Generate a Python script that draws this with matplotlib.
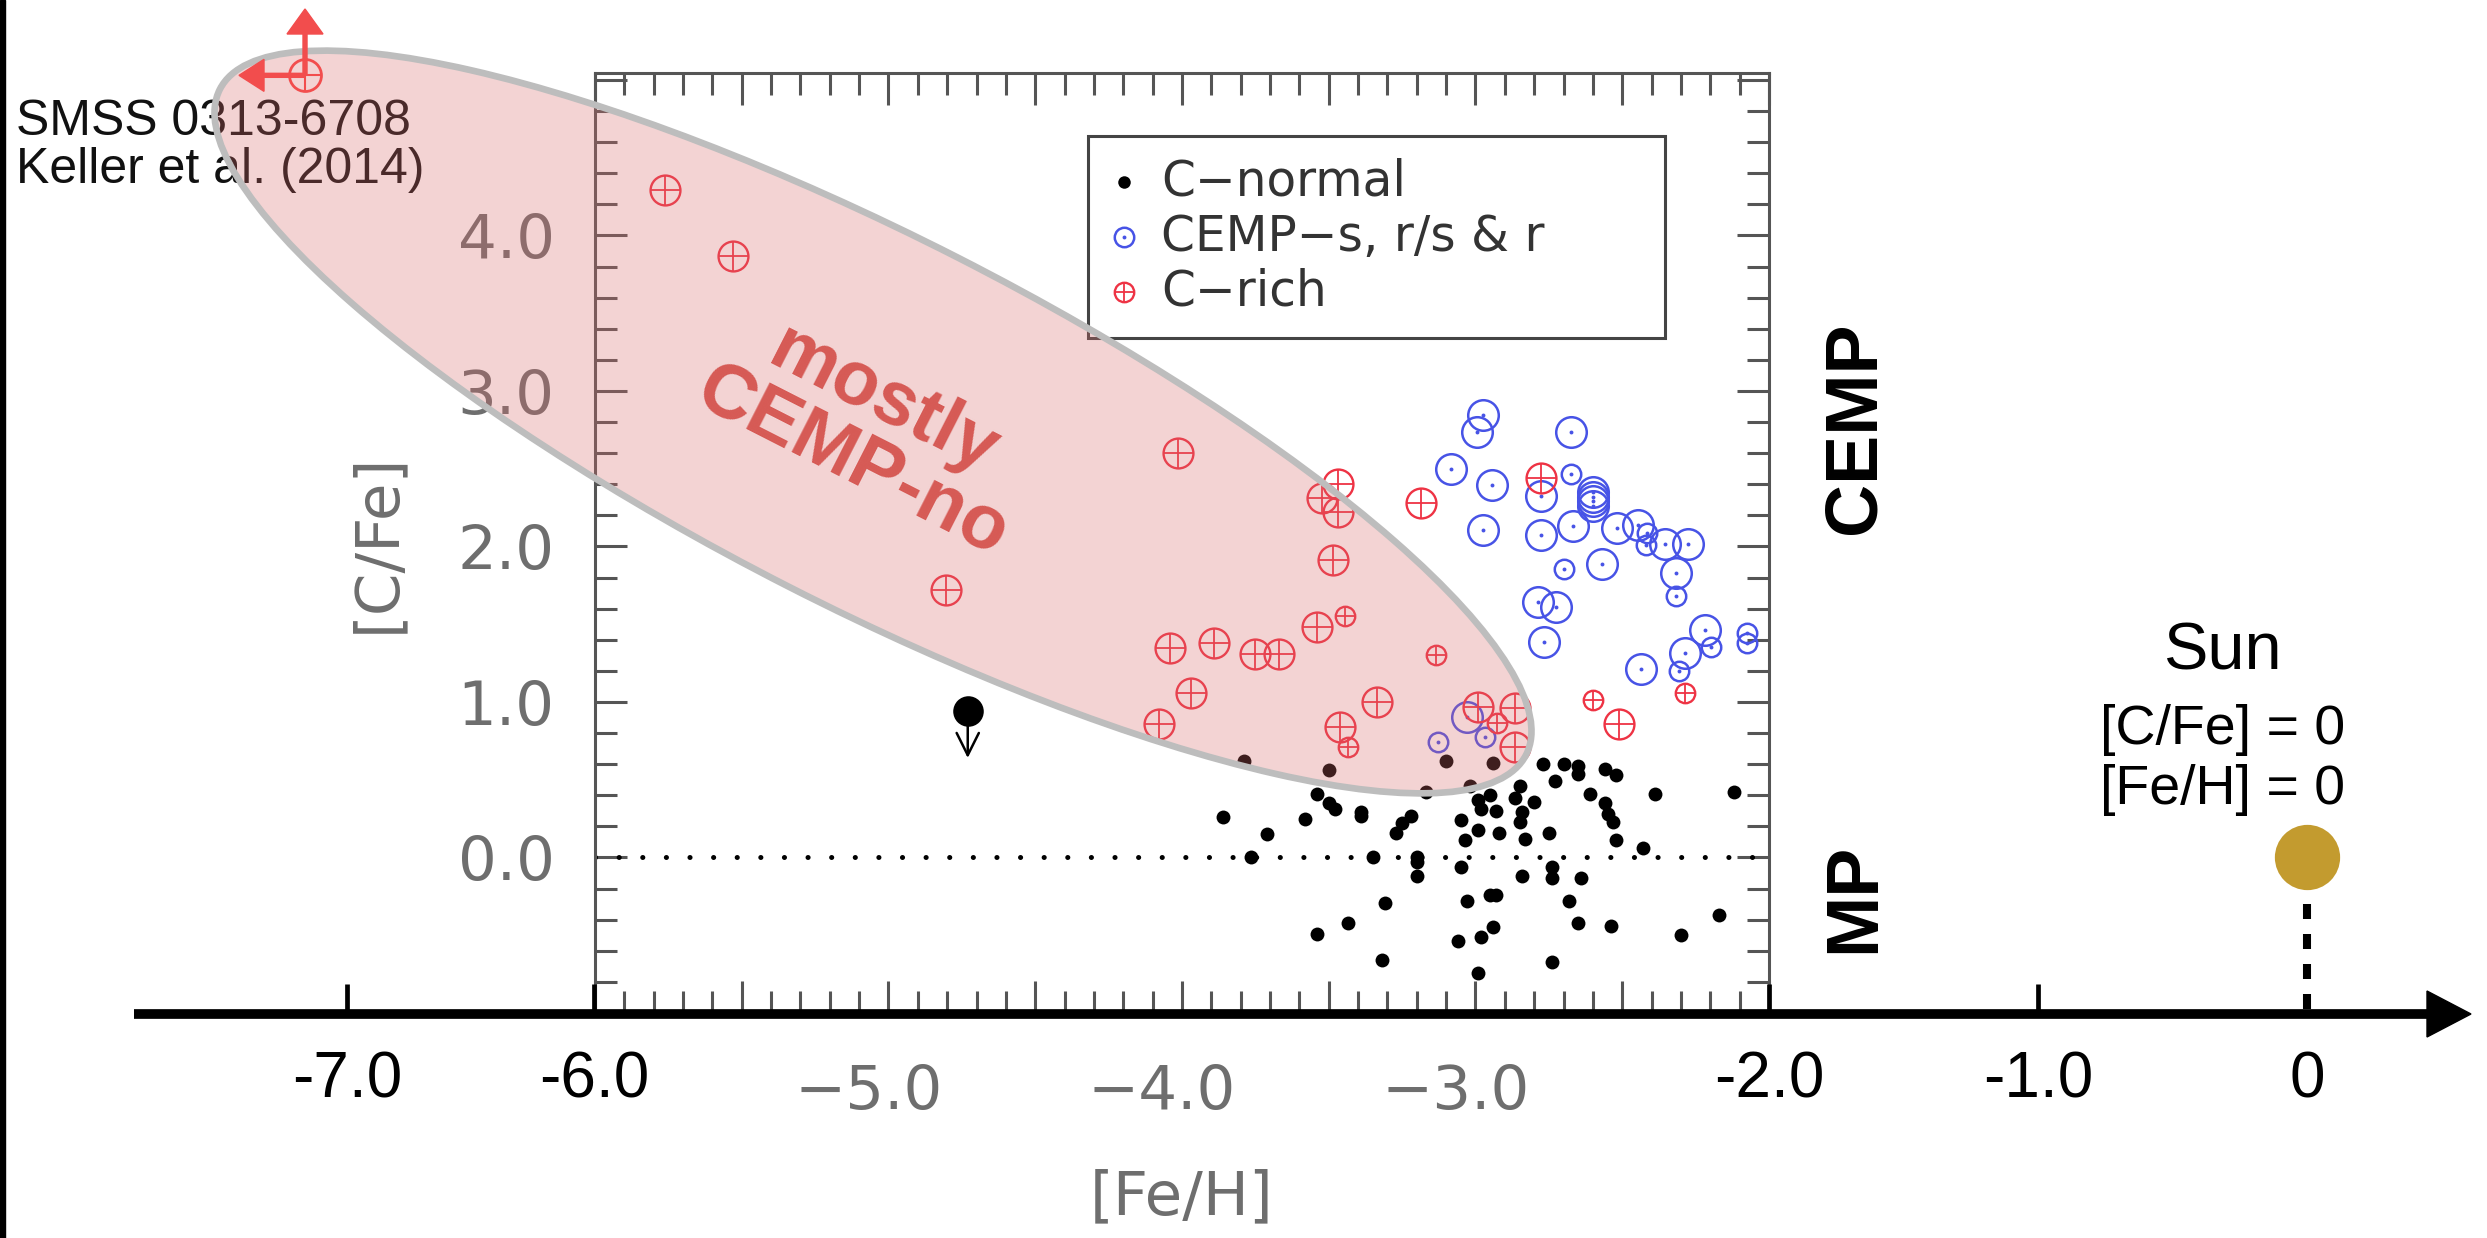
import numpy as np
import matplotlib
matplotlib.use('Agg')
import matplotlib.pyplot as plt
from matplotlib.patches import Ellipse, Rectangle, Polygon
from matplotlib.ticker import MultipleLocator
from matplotlib.transforms import ScaledTranslation

plt.rcParams['lines.scale_dashes'] = False

W, H, DPI = 2487, 1238, 100

# C-normal stars
normal_feh = [-3.79, -3.50, -3.10, -2.94, -3.02, -3.17, -2.77, -2.70, -2.65, -2.65,
              -2.56, -2.52, -2.73, -2.85, -2.95, -2.99, -2.865, -2.80, -2.98, -2.93,
              -2.84, -2.85, -2.61, -2.56, -2.55, -2.53, -2.39, -2.12, -3.54, -3.50,
              -3.48, -3.39, -3.39, -3.22, -3.25, -3.27, -3.86, -3.58, -3.71, -3.05,
              -2.99, -2.92, -2.83, -2.75, -3.035, -2.52, -2.43, -3.765, -3.35, -3.20,
              -3.20, -3.05, -3.20, -2.84, -2.74, -2.74, -2.64, -3.31, -3.03, -2.95,
              -2.93, -2.68, -3.435, -3.54, -2.94, -2.98, -3.06, -2.65, -2.54, -2.30,
              -2.17, -3.32, -2.99, -2.74]
normal_cfe = [0.62, 0.56, 0.62, 0.61, 0.46, 0.42, 0.60, 0.60, 0.59, 0.54,
              0.57, 0.53, 0.49, 0.46, 0.405, 0.37, 0.38, 0.36, 0.31, 0.30,
              0.29, 0.23, 0.41, 0.35, 0.28, 0.23, 0.41, 0.42, 0.41, 0.35,
              0.31, 0.29, 0.27, 0.27, 0.22, 0.16, 0.26, 0.25, 0.15, 0.24,
              0.18, 0.16, 0.12, 0.16, 0.11, 0.11, 0.06, 0.00, 0.00, 0.00,
              -0.03, -0.06, -0.12, -0.12, -0.06, -0.13, -0.13, -0.29, -0.28, -0.24,
              -0.24, -0.28, -0.42, -0.49, -0.45, -0.51, -0.54, -0.42, -0.44, -0.50,
              -0.37, -0.66, -0.74, -0.67]

# upper limit star
limit_feh, limit_cfe, limit_len = -4.73, 0.94, 0.30

# CEMP-s, r/s & r (big / small symbols)
cemp_feh = [-2.976, -2.996, -2.676, -3.085, -2.945, -2.778, -2.599, -2.599, -2.599, -2.599,
            -2.976, -2.778, -2.667, -2.517, -2.445, -2.354, -2.277, -2.317, -2.568, -2.786,
            -2.727, -2.767, -2.218, -2.286, -2.437, -3.029]
cemp_cfe = [2.846, 2.738, 2.738, 2.496, 2.395, 2.325, 2.35, 2.32, 2.29, 2.26,
            2.106, 2.074, 2.134, 2.117, 2.138, 2.014, 2.014, 1.832, 1.886, 1.645,
            1.613, 1.388, 1.463, 1.313, 1.210, 0.902]
cemp_small_feh = [-2.676, -2.414, -2.418, -2.317, -2.698, -2.196, -2.076, -2.076, -2.306, -3.127, -2.968]
cemp_small_cfe = [2.466, 2.085, 2.01, 1.682, 1.853, 1.356, 1.442, 1.377, 1.201, 0.742, 0.774]

# C-rich (big / small symbols)
crich_feh = [-5.76, -5.53, -4.805, -4.015, -4.04, -3.89, -3.97, -4.08, -3.75, -3.67,
             -3.54, -3.487, -3.469, -3.522, -3.469, -3.186, -3.46, -3.335, -2.99, -2.865,
             -2.865, -2.778, -2.51]
crich_cfe = [4.29, 3.87, 1.72, 2.60, 1.35, 1.38, 1.06, 0.86, 1.31, 1.31,
             1.48, 1.91, 2.22, 2.31, 2.40, 2.28, 0.84, 1.00, 0.97, 0.96,
             0.71, 2.44, 0.86]
crich_small_feh = [-3.446, -3.135, -3.435, -2.926, -2.599, -2.287]
crich_small_cfe = [1.556, 1.30, 0.71, 0.864, 1.014, 1.057]

# SMSS 0313-6708 (limits) and the Sun
smss_feh, smss_cfe = -7.17, 5.03
sun_feh, sun_cfe = 0.0, 0.0

# outer (schematic) axis
outer_ticks = [-7.0, -6.0, -2.0, -1.0, 0.0]
outer_labels = ['-7.0', '-6.0', '-2.0', '-1.0', '0']
outer_px = [347, 594, 1769, 2038, 2307]

inner_xlabels = {-5.0: '\u22125.0', -4.0: '\u22124.0', -3.0: '\u22123.0'}
inner_ylabels = {0.0: '0.0', 1.0: '1.0', 2.0: '2.0', 3.0: '3.0', 4.0: '4.0'}

RED = '#EE3344'
BLUE = '#4753E6'
GRAY = '#6e6e6e'
DARK = '#555555'


def outer_x(fe):
    if fe < outer_ticks[0]:
        return outer_px[0] + (fe - outer_ticks[0]) * (outer_px[1] - outer_px[0])
    return np.interp(fe, outer_ticks, outer_px)


fig = plt.figure(figsize=(W / DPI, H / DPI), dpi=DPI)
ax = fig.add_axes([595 / W, 1 - 1013 / H, (1769 - 595) / W, (1013 - 73) / H])
ax.set_xlim(-6, -2)
ax.set_ylim(-1, 5.045)

xt = np.arange(-6, -1.99, 0.5)
ax.set_xticks(xt, [inner_xlabels.get(round(v, 1), '') for v in xt])
yt = np.arange(-1, 5.01, 1.0)
ax.set_yticks(yt, [inner_ylabels.get(round(v, 1), '') for v in yt])
ax.xaxis.set_minor_locator(MultipleLocator(0.1))
ax.yaxis.set_minor_locator(MultipleLocator(0.2))
ax.tick_params(which='both', direction='in', top=True, right=True, color=DARK, width=2.2)
ax.tick_params(which='major', length=23)
ax.tick_params(which='minor', length=16)
ax.tick_params(axis='x', pad=36, labelsize=44, labelcolor=GRAY)
ax.tick_params(axis='y', pad=29, labelsize=44, labelcolor=GRAY)
for lab in ax.get_xticklabels():
    lab.set_transform(lab.get_transform() + ScaledTranslation(-0.2, 0, fig.dpi_scale_trans))
for sp in ax.spines.values():
    sp.set_color(DARK)
    sp.set_linewidth(2.2)

ax.set_xlabel('[Fe/H]', fontsize=44, color=GRAY)
ax.set_ylabel('[C/Fe]', fontsize=44, color=GRAY)
ax.xaxis.set_label_coords(0.5, -0.165)
ax.yaxis.set_label_coords(-0.16, 0.5)

ax.axhline(0, color='k', lw=3.6, dashes=(0.1, 16.9), dash_capstyle='round')

ax.plot(normal_feh, normal_cfe, 'o', ms=10, color='k', mew=0, ls='none')
ax.plot(limit_feh, limit_cfe, 'o', ms=22, color='k', mew=0)
ax.annotate('', xy=(limit_feh, limit_cfe - limit_len), xytext=(limit_feh, limit_cfe - 0.05),
            arrowprops=dict(arrowstyle='->,head_length=0.4,head_width=0.2', lw=1.8,
                            color='k', mutation_scale=40, shrinkA=0, shrinkB=0))


def cemp_marks(a, x, y, ms):
    a.plot(x, y, 'o', ms=ms, mfc='none', mec=BLUE, mew=1.8, ls='none')
    a.plot(x, y, 'o', ms=2.8, color=BLUE, mew=0, ls='none')


def crich_marks(a, x, y, ms):
    a.plot(x, y, 'o', ms=ms, mfc='none', mec=RED, mew=1.7, ls='none')
    a.plot(x, y, '+', ms=ms, mec=RED, mew=1.3, ls='none')


cemp_marks(ax, cemp_feh, cemp_cfe, 22)
cemp_marks(ax, cemp_small_feh, cemp_small_cfe, 14)
crich_marks(ax, crich_feh, crich_cfe, 21.5)
crich_marks(ax, crich_small_feh, crich_small_cfe, 14)

# overlay in figure pixels (y down)
ax0 = fig.add_axes([0, 0, 1, 1], zorder=5)
ax0.set_xlim(0, W)
ax0.set_ylim(H, 0)
ax0.axis('off')
ax0.patch.set_visible(False)


def inner_y(c):
    disp = ax.transData.transform((-6, c))
    return ax0.transData.inverted().transform(disp)[1]


ax0.add_patch(Rectangle((0, 0), 5, H, color='k', zorder=6))

ax0.text(16, 122, 'SMSS 0313-6708', fontsize=36, family='Liberation Sans', color='#111111',
         va='center', ha='left', zorder=1)
ax0.text(16, 170, 'Keller et al. (2014)', fontsize=36, family='Liberation Sans', color='#111111',
         va='center', ha='left', zorder=1)

# legend
ax0.add_patch(Rectangle((1088, 136), 577, 202, facecolor='white', edgecolor='#444444',
                        lw=2.2, zorder=2))
ax0.plot(1124, 182, 'o', ms=9, color='k', mew=0, zorder=2.5)
ax0.plot(1124, 237, 'o', ms=14, mfc='none', mec=BLUE, mew=1.8, zorder=2.5)
ax0.plot(1124, 237, 'o', ms=2.8, color=BLUE, mew=0, zorder=2.5)
ax0.plot(1124, 292, 'o', ms=14, mfc='none', mec=RED, mew=1.7, zorder=2.5)
ax0.plot(1124, 292, '+', ms=14, mec=RED, mew=1.3, zorder=2.5)
for ty, lab in zip([182, 237, 292], ['C\u2212normal', 'CEMP\u2212s, r/s & r', 'C\u2212rich']):
    ax0.text(1161, ty, lab, fontsize=35, color='#333333', va='center', ha='left', zorder=2.5)

# ellipse
ax0.add_patch(Ellipse((873, 422), 2 * 733, 2 * 185, angle=27, facecolor='#D96A6A',
                      alpha=0.29, edgecolor='none', zorder=3))
ax0.add_patch(Ellipse((873, 422), 2 * 733, 2 * 185, angle=27, facecolor='none',
                      edgecolor='#BDBDBD', lw=4.8, zorder=3.1))
ax0.text(868, 432, 'mostly\nCEMP-no', fontsize=55, fontweight='bold', family='Liberation Sans',
         color='#D65A55', rotation=-27, ha='center', va='center', rotation_mode='anchor',
         multialignment='center', linespacing=0.95, zorder=4)

# SMSS marker with limit arrows
sx, sy = outer_x(smss_feh), inner_y(smss_cfe)
ax0.arrow(sx, sy, 0, 9 - sy, width=4, head_width=36, head_length=25,
          length_includes_head=True, color='#F24D4D', zorder=4.5)
ax0.arrow(sx, sy, 239 - sx, 0, width=4, head_width=32, head_length=25,
          length_includes_head=True, color='#F24D4D', zorder=4.5)
ax0.plot(sx, sy, 'o', ms=23, mfc='none', mec='#F24D4D', mew=2, zorder=4.6)
ax0.plot(sx, sy, '+', ms=23, mec='#F24D4D', mew=1.5, zorder=4.6)

# outer axis
ax0.plot([134, 2432], [1014, 1014], color='k', lw=7, solid_capstyle='butt', zorder=5)
ax0.add_patch(Polygon([(2427, 991), (2471, 1014), (2427, 1037)], closed=True,
                      color='k', zorder=5))
for fe, lab in zip(outer_ticks, outer_labels):
    px = outer_x(fe)
    if fe != 0.0:
        ax0.plot([px, px], [1012, 984], color='k', lw=3.4, solid_capstyle='butt', zorder=5)
    ax0.text(px, 1081, lab, fontsize=46, family='Liberation Sans', color='k',
             ha='center', va='center', zorder=5)

ax0.text(1855, 428, 'CEMP', fontsize=53, fontweight='bold', family='Liberation Sans',
         rotation=90, ha='center', va='center', zorder=5)
ax0.text(1855, 898, 'MP', fontsize=53, fontweight='bold', family='Liberation Sans',
         rotation=90, ha='center', va='center', zorder=5)

# the Sun
ux, uy = outer_x(sun_feh), inner_y(sun_cfe)
ax0.plot(ux, uy, 'o', ms=47, color='#C39B2F', mew=0, zorder=5)
ax0.plot([ux, ux], [uy + 47, 1009], color='k', lw=5.8, dashes=(10.8, 10.8), zorder=5)
ax0.text(2222, 652, 'Sun', fontsize=48, family='Liberation Sans', ha='center', va='center', zorder=5)
ax0.text(2223, 730, '[C/Fe] = 0', fontsize=40, family='Liberation Sans', ha='center', va='center', zorder=5)
ax0.text(2223, 790, '[Fe/H] = 0', fontsize=40, family='Liberation Sans', ha='center', va='center', zorder=5)

fig.savefig('out.png', dpi=DPI)
